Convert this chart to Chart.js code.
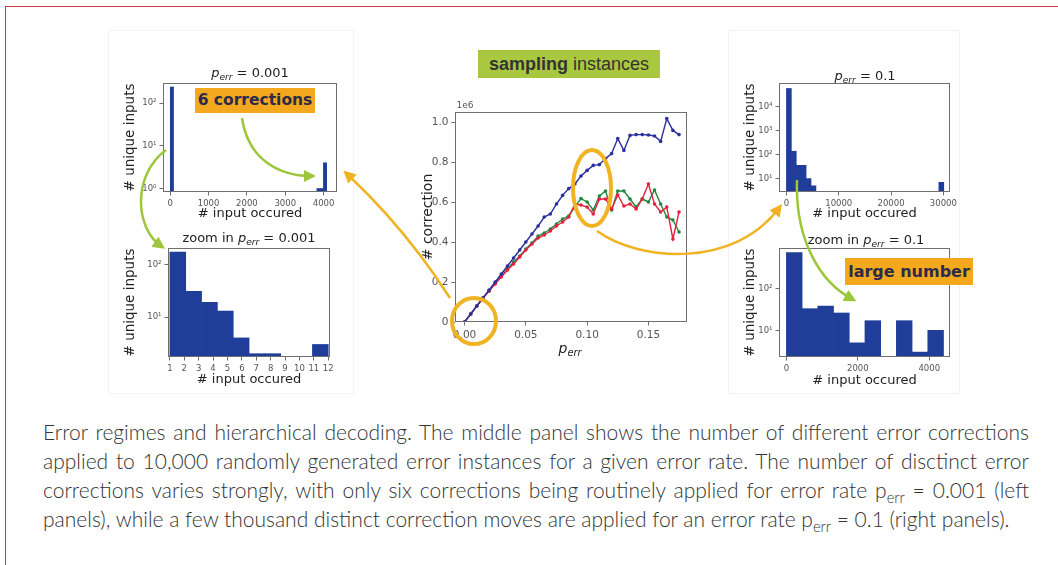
<!DOCTYPE html>
<html><head><meta charset="utf-8">
<script src="https://cdn.jsdelivr.net/npm/chart.js@4.4.0/dist/chart.umd.min.js"></script>
<style>
html,body{margin:0;padding:0;background:#fff;width:1058px;height:565px;overflow:hidden;position:relative;font-family:"DejaVu Sans",sans-serif;}
canvas{position:absolute;}
#frame{position:absolute;left:5px;top:6px;width:1100px;height:600px;border:1.5px solid #d03a46;}
.grp{position:absolute;border:1px solid #f4f4f4;}
.t{position:absolute;transform:translate(-50%,-50%);font-family:"DejaVu Sans";font-size:13px;color:#222;white-space:nowrap;line-height:16px;z-index:3;}
.t i{font-style:italic;}
.t sub,#cap sub{font-size:70%;vertical-align:baseline;position:relative;top:0.35em;line-height:0;}
.lab{position:absolute;white-space:nowrap;z-index:6;text-align:center;}
#cap{position:absolute;left:43px;top:417px;width:986px;font-family:Lato,"Open Sans",sans-serif;font-weight:300;font-size:21px;line-height:29px;color:#333;}
#cap .ln{text-align:justify;text-align-last:justify;white-space:nowrap;}
#cap .ln.last{text-align-last:left;}
svg{position:absolute;left:0;top:0;z-index:5;}
</style></head><body>
<div id="frame"></div>
<div class="grp" style="left:108px;top:30px;width:244px;height:362px"></div>
<div class="grp" style="left:728px;top:30px;width:230px;height:362px"></div>

<canvas id="cMid"></canvas>
<canvas id="cTL"></canvas>
<canvas id="cBL"></canvas>
<canvas id="cTR"></canvas>
<canvas id="cBR"></canvas>

<div class="t" style="left:250px;top:73px"><i>p</i><sub><i>err</i></sub> = 0.001</div>
<div class="t" style="left:249px;top:238px">zoom in <i>p</i><sub><i>err</i></sub> = 0.001</div>
<div class="t" style="left:865px;top:76px"><i>p</i><sub><i>err</i></sub> = 0.1</div>
<div class="t" style="left:866px;top:240px">zoom in <i>p</i><sub><i>err</i></sub> = 0.1</div>
<div class="t" style="left:465px;top:105px;font-size:9px;color:#555">1e6</div>
<div class="t" style="left:570px;top:348px;font-size:14px"><i>p</i><sub><i>err</i></sub></div>

<div class="lab" style="left:478px;top:50px;width:182px;height:28px;line-height:28px;background:#a9c83f;font-family:'Liberation Sans',Arial,sans-serif;font-size:18px;color:#333"><b>sampling</b> instances</div>
<div class="lab" style="left:195px;top:88px;width:120px;height:25px;line-height:25px;background:#f4a81d;font-family:'DejaVu Sans';font-weight:bold;font-size:15.5px;color:#2b2b4a">6 corrections</div>
<div class="lab" style="left:845px;top:258px;width:128px;height:27px;line-height:27px;background:#f4a81d;font-family:'DejaVu Sans';font-weight:bold;font-size:16px;color:#2b2b4a">large number</div>

<svg width="1058" height="565">
<defs>
<marker id="ao" viewBox="0 0 10 10" refX="6" refY="5" markerWidth="5" markerHeight="5" orient="auto"><path d="M0,0 L10,5 L0,10 z" fill="#f0b323"/></marker>
<marker id="ag" viewBox="0 0 10 10" refX="6" refY="5" markerWidth="5" markerHeight="5" orient="auto"><path d="M0,0 L10,5 L0,10 z" fill="#9dc63b"/></marker>
</defs>
<ellipse cx="474" cy="321" rx="22" ry="23" fill="none" stroke="#f0b323" stroke-width="4"/>
<ellipse cx="592" cy="188" rx="19" ry="38" fill="none" stroke="#f0b323" stroke-width="4"/>
<path d="M450,298 Q405,228 347,174" stroke="#f0b323" stroke-width="2.5" fill="none" marker-end="url(#ao)"/>
<path d="M597,231 C640,262 735,268 779,208" stroke="#f0b323" stroke-width="2.5" fill="none" marker-end="url(#ao)"/>
<path d="M242,118 C248,160 280,176 311,176" stroke="#9dc63b" stroke-width="2.5" fill="none" marker-end="url(#ag)"/>
<path d="M166,150 C132,175 135,228 161,246" stroke="#9dc63b" stroke-width="2.5" fill="none" marker-end="url(#ag)"/>
<path d="M797,180 C795,240 820,282 852,299" stroke="#9dc63b" stroke-width="2.5" fill="none" marker-end="url(#ag)"/>
</svg>

<div id="cap">
<div class="ln">Error regimes and hierarchical decoding. The middle panel shows the number of different error corrections</div>
<div class="ln">applied to 10,000 randomly generated error instances for a given error rate. The number of disctinct error</div>
<div class="ln">corrections varies strongly, with only six corrections being routinely applied for error rate p<sub>err</sub> = 0.001 (left</div>
<div class="ln last">panels), while a few thousand distinct correction moves are applied for an error rate p<sub>err</sub> = 0.1 (right panels).</div>
</div>

<script>
// ---------------- DATA ----------------
const pErr = [0,0.005,0.01,0.015,0.02,0.025,0.03,0.035,0.04,0.045,0.05,0.055,0.06,0.065,0.07,0.075,0.08,0.085,
              0.09,0.095,0.1,0.105,0.11,0.115,0.12,0.125,0.13,0.135,0.14,0.145,0.15,0.155,0.16,0.165,0.17,0.175];
const corrBlue = [0,40000,80000,120000,160000,200000,240000,280000,320000,360000,400000,440000,480000,525000,540000,590000,633000,667000,
                  690000,730000,758000,783000,787000,817000,842000,917000,858000,933000,937000,937000,935000,930000,903000,1017000,958000,937000];
const corrGreen = [0,40000,80000,120000,155000,195000,230000,265000,300000,330000,365000,395000,430000,445000,465000,490000,515000,530000,
                   575000,617000,600000,560000,630000,655000,560000,655000,655000,615000,575000,615000,600000,660000,590000,525000,510000,450000];
const corrRed = [0,40000,80000,120000,155000,190000,225000,260000,290000,325000,360000,390000,420000,435000,455000,480000,500000,525000,
                 590000,585000,575000,540000,615000,615000,565000,635000,580000,590000,565000,615000,690000,590000,550000,575000,415000,550000];
const midXTicks = [0,0.05,0.1,0.15];
const midYTicks = [0,200000,400000,600000,800000,1000000];

// p_err = 0.001 histogram (bins of width 85 starting at 0)
const tlBinStart = 0, tlBinWidth = 85;
const tlCounts = [238,0,0,0,0,0,0,0,0,0,0,0,0,0,0,0,0,0,0,0,0,0,0,0,0,0,0,0,0,0,0,0,0,0,0,0,0,0,0,0,0,0,0,0,0,1,1,4];
const tlXTicks = [0,1000,2000,3000,4000];
const tlYTicks = [1,10,100];

// zoom in p_err = 0.001
const blBins = [1.55,2.65,3.75,4.85,5.95,7.05,8.15,9.25,10.35,11.45];
const blCounts = [174,31,19,13,4,2,2,0,0,3];
const blXTicks = [1,2,3,4,5,6,7,8,9,10,11,12];
const blYTicks = [10,100];

// p_err = 0.1 histogram (bins of width 940 starting at 0)
const trBinStart = 0, trBinWidth = 940;
const trCounts = [59000,140,36,36,10,5,0,0,0,0,0,0,0,0,0,0,0,0,0,0,0,0,0,0,0,0,0,0,0,0,0,7];
const trXTicks = [0,10000,20000,30000];
const trYTicks = [10,100,1000,10000];

// zoom in p_err = 0.1
const brBins = [220,660,1100,1540,1980,2420,2860,3300,3740,4180];
const brCounts = [730,33,38,26,5,17,0,17,3,10];
const brXTicks = [0,2000,4000];
const brYTicks = [10,100];

// ---------------- STYLE / HELPERS ----------------
const BAR = '#1f3d99', AX = '#6f6f6f', TICKC = '#555';
const SUP = {'0':'⁰','1':'¹','2':'²','3':'³','4':'⁴','5':'⁵','6':'⁶','7':'⁷','8':'⁸','9':'⁹'};
const pow10 = v => '10' + String(Math.round(Math.log10(v))).split('').map(c => SUP[c]).join('');

const framePlugin = {
  id: 'frame',
  afterDraw(chart) {
    const a = chart.chartArea, c = chart.ctx;
    c.save(); c.strokeStyle = AX; c.lineWidth = 1;
    c.strokeRect(Math.round(a.left) + 0.5, Math.round(a.top) + 0.5, Math.round(a.right - a.left) - 1, Math.round(a.bottom - a.top) - 1);
    c.restore();
  }
};

function setup(id, g) {
  const cv = document.getElementById(id);
  const w = g.r - g.l + g.yW + g.pr, h = g.b - g.t + g.pt + g.xH;
  cv.width = w; cv.height = h;
  cv.style.left = (g.l - g.yW) + 'px'; cv.style.top = (g.t - g.pt) + 'px';
  cv.style.width = w + 'px'; cv.style.height = h + 'px';
  return cv;
}
const gridOpts = { display: true, drawOnChartArea: false, drawTicks: true, tickLength: 3.5, color: AX, offset: false };

function hist(id, g, bins, counts, xr, yr, xTicks, yTicks, xFmt, tickSize) {
  const cv = setup(id, g);
  const tf = { family: 'DejaVu Sans', size: tickSize || 8.5 };
  new Chart(cv, {
    type: 'bar',
    data: { datasets: [{
      data: bins.map((x, i) => ({ x: x, y: counts[i] > 0 ? counts[i] : null })),
      backgroundColor: BAR, borderWidth: 0,
      barThickness: 'flex', barPercentage: 1, categoryPercentage: 1
    }]},
    options: {
      responsive: false, animation: false, events: [],
      layout: { padding: { left: 0, top: g.pt, right: g.pr, bottom: 0 } },
      plugins: { legend: { display: false }, tooltip: { enabled: false } },
      scales: {
        x: {
          type: 'linear', min: xr[0], max: xr[1], offset: false, bounds: 'data',
          afterBuildTicks: s => { s.ticks = xTicks.map(v => ({ value: v })); },
          afterFit: s => { s.height = g.xH; },
          ticks: { callback: xFmt || (v => String(v)), font: tf, color: TICKC, padding: 3, autoSkip: false, maxRotation: 0 },
          grid: gridOpts, border: { display: false },
          title: { display: true, text: '# input occured', font: { family: 'DejaVu Sans', size: 13 }, color: '#222', padding: { top: 0, bottom: 4 } }
        },
        y: {
          type: 'logarithmic', min: yr[0], max: yr[1], bounds: 'data',
          afterBuildTicks: s => { s.ticks = yTicks.map(v => ({ value: v })); },
          afterFit: s => { s.width = g.yW; },
          ticks: { callback: v => pow10(v), font: tf, color: TICKC, padding: 3, autoSkip: false },
          grid: gridOpts, border: { display: false },
          title: { display: true, text: '# unique inputs', font: { family: 'DejaVu Sans', size: 13.5 }, color: '#222', padding: { top: 4, bottom: 0 } }
        }
      }
    },
    plugins: [framePlugin]
  });
}

// ---------------- HISTOGRAMS ----------------
hist('cTL', { l: 163, t: 83, r: 337, b: 192, yW: 45, xH: 33, pt: 10, pr: 20 },
     tlCounts.map((_, i) => tlBinStart + tlBinWidth * (i + 0.5)), tlCounts,
     [-190, 4350], [0.83, 295], tlXTicks, tlYTicks);
hist('cBL', { l: 168, t: 248, r: 330, b: 357, yW: 50, xH: 34, pt: 10, pr: 20 },
     blBins, blCounts, [0.87, 12.12], [1.73, 207], blXTicks, blYTicks);
hist('cTR', { l: 779, t: 83, r: 950, b: 192, yW: 41, xH: 33, pt: 10, pr: 20 },
     trCounts.map((_, i) => trBinStart + trBinWidth * (i + 0.5)), trCounts,
     [-1420, 31270], [2.75, 100000], trXTicks, trYTicks);
hist('cBR', { l: 779, t: 248, r: 950, b: 357, yW: 41, xH: 35, pt: 10, pr: 20 },
     brBins, brCounts, [-207, 4582], [2.29, 940], brXTicks, brYTicks);

// ---------------- MIDDLE LINE CHART ----------------
(function () {
  const g = { l: 455, t: 112, r: 687, b: 322, yW: 38, xH: 36, pt: 10, pr: 20 };
  const cv = setup('cMid', g);
  const tf = { family: 'DejaVu Sans', size: 10.5 };
  const ds = (vals, col) => ({
    data: pErr.map((x, i) => ({ x: x, y: vals[i] })),
    borderColor: col, backgroundColor: col, borderWidth: 1.4,
    pointRadius: 1.8, pointBorderWidth: 0, pointBackgroundColor: col, tension: 0
  });
  new Chart(cv, {
    type: 'line',
    data: { datasets: [ds(corrBlue, '#2b2f9e'), ds(corrRed, '#e5203e'), ds(corrGreen, '#1e8a3e')] },
    options: {
      responsive: false, animation: false, events: [],
      layout: { padding: { left: 0, top: g.pt, right: g.pr, bottom: 0 } },
      plugins: { legend: { display: false }, tooltip: { enabled: false } },
      scales: {
        x: {
          type: 'linear', min: -0.0078, max: 0.1815, bounds: 'data',
          afterBuildTicks: s => { s.ticks = midXTicks.map(v => ({ value: v })); },
          afterFit: s => { s.height = g.xH; },
          ticks: { callback: v => v.toFixed(2), font: tf, color: TICKC, padding: 3, autoSkip: false, maxRotation: 0 },
          grid: gridOpts, border: { display: false }
        },
        y: {
          type: 'linear', min: 0, max: 1050000, bounds: 'data',
          afterBuildTicks: s => { s.ticks = midYTicks.map(v => ({ value: v })); },
          afterFit: s => { s.width = g.yW; },
          ticks: { callback: v => v === 0 ? '0' : (v / 1e6).toFixed(1), font: tf, color: TICKC, padding: 3, autoSkip: false },
          grid: gridOpts, border: { display: false },
          title: { display: true, text: '# correction', font: { family: 'DejaVu Sans', size: 14 }, color: '#222', padding: { top: 3, bottom: 0 } }
        }
      }
    },
    plugins: [framePlugin]
  });
})();
</script>
</body></html>
